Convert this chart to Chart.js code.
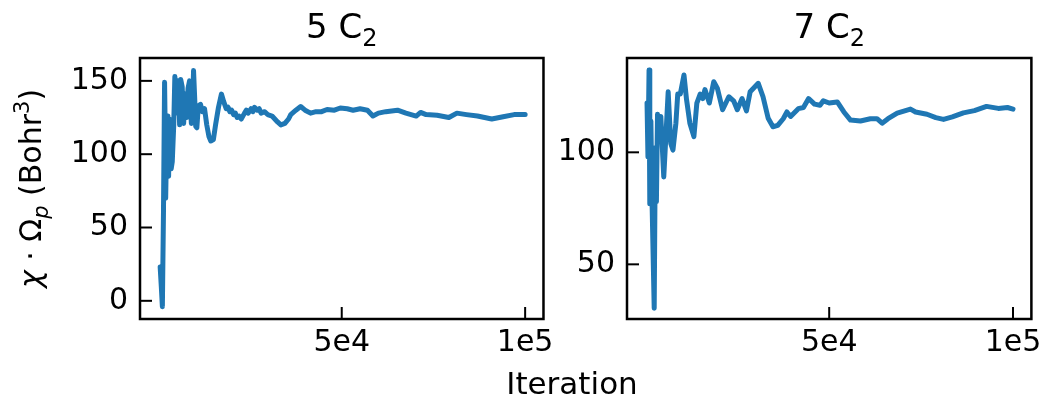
<!DOCTYPE html>
<html>
<head>
<meta charset="utf-8">
<script src="https://cdn.jsdelivr.net/npm/chart.js@4.4.1/dist/chart.umd.min.js"></script>
<style>
  body { margin: 0; background: #fff; }
  .wrap { position: relative; width: 1048px; height: 400px; overflow: hidden; }
  #chart5 { position: absolute; left: 0; top: 0; }
  #chart7 { position: absolute; left: 552px; top: 0; }
  #xlabel {
    position: absolute; left: 432px; width: 280px; top: 368px;
    text-align: center; font-family: 'DejaVu Sans'; font-size: 31px; line-height: 1; color: #000;
  }
</style>
</head>
<body>
<div class="wrap">
  <canvas id="chart5" width="560" height="400"></canvas>
  <canvas id="chart7" width="496" height="400"></canvas>
  <div id="xlabel">Iteration</div>
</div>
<script>
// Data
const iter5 = [500, 800, 1100, 1400, 1700, 1900, 2000, 2200, 2400, 2600, 2800, 3000, 3200, 3500, 3800, 4200,
  4500, 4900, 5200, 5500, 5800, 6100, 6500, 6900, 7300, 7700, 8100, 8500, 9000, 9300, 9600, 9900, 10200, 10500,
  10900, 11500, 12000, 12600, 13200, 13800, 14300, 15000, 15600, 16400, 17200, 17800, 18500, 19000, 19500, 20000,
  20500, 21000, 21500, 22000, 22600, 23500, 24000, 24500, 25300, 25800, 26200, 27000, 27500, 28000, 29000, 29800,
  31000, 32500, 33400, 34500, 35500, 36100, 37500, 38800, 40000, 41500, 43000, 44500, 46000, 48000, 49600, 51500,
  53100, 55000, 57000, 58500, 60000, 62000, 65200, 67500, 70300, 71500, 73000, 76000, 79200, 81400, 84000, 87000,
  90900, 94000, 97000, 100000];
const chi5 = [23, 10, -4, 60, 149, 110, 70, 100, 126, 95, 85, 124, 110, 90, 95, 120,
  153, 140, 128, 150, 120, 151, 146, 121, 141, 125, 145, 150, 121, 130, 157, 139, 119, 118,
  133, 134, 129, 131, 120, 112, 109, 110, 120, 132, 141, 136, 131, 132, 129, 130,
  127, 128, 125, 126, 124, 128, 130, 128, 131, 129, 132, 130, 131, 128, 129, 127,
  126, 122, 120, 121, 124, 127, 130, 132.5, 130, 128, 129, 129, 130.5, 130, 131.5, 131,
  130, 131, 130, 126, 128, 129, 130, 128, 126, 128.5, 127, 126.5, 125, 128, 127, 126,
  124, 125.5, 127, 127];

const iter7 = [450, 700, 1000, 1200, 1500, 1800, 2400, 2700, 3000, 3300, 3800, 4200, 5000, 5700, 6200, 6900,
  7500, 8300, 8800, 9500, 10500, 11200, 12100, 13200, 14000, 14900, 15600, 16200, 17400, 18600, 19600, 21000,
  22700, 24000, 25000, 26300, 27500, 28500, 30700, 32000, 33400, 34700, 36000, 37500, 38500, 39500, 41600, 43000,
  44400, 46000, 47500, 48400, 50000, 52200, 54000, 55800, 58500, 61200, 63000, 64400, 66000, 68500, 72100, 73500,
  76600, 79000, 81100, 83500, 86500, 89500, 92800, 96000, 98500, 100000];
const chi7 = [122, 98, 136.7, 77, 114, 79, 30.4, 102, 78, 117, 108, 116, 89, 111, 127, 104,
  101, 113, 126, 126, 134.5, 123.5, 113, 107, 122, 126, 124, 128, 122, 131.5, 128.5, 119,
  124.8, 123, 119, 124, 118.5, 127, 130.8, 124.8, 115.2, 111.4, 112, 115, 118, 116, 119.5, 120,
  124, 121.5, 121, 123, 122, 122.5, 118, 114.4, 114, 115, 115, 113, 115, 117.5, 119.3, 118,
  117, 115.5, 114.7, 115.8, 117.6, 118.6, 120.5, 119.6, 120, 119.3];

const xTickValues = [50000, 100000];
const xTickLabels = ['5e4', '1e5'];
const yTicks5 = [0, 50, 100, 150];
const yTicks7 = [50, 100];

const FONT = 'DejaVu Sans';

// draw a run of text pieces: [text, size, italic, baseline shift]
function drawPieces(ctx, pieces, x, y) {
  let cx = x;
  pieces.forEach(p => {
    ctx.font = (p[2] ? 'italic ' : '') + p[1] + 'px "' + FONT + '"';
    ctx.fillText(p[0], cx, y + p[3]);
    cx += ctx.measureText(p[0]).width;
  });
}
function piecesWidth(ctx, pieces) {
  let w = 0;
  pieces.forEach(p => {
    ctx.font = (p[2] ? 'italic ' : '') + p[1] + 'px "' + FONT + '"';
    w += ctx.measureText(p[0]).width;
  });
  return w;
}

// box round the plot with inward tick marks, title with subscript
const frameAndTicks = {
  id: 'frameAndTicks',
  afterDraw(chart, args, opts) {
    const { ctx, chartArea: a, scales } = chart;
    ctx.save();
    ctx.strokeStyle = '#000';
    ctx.fillStyle = '#000';
    ctx.lineWidth = 2;
    scales.x.ticks.forEach(t => {
      const px = scales.x.getPixelForValue(t.value);
      ctx.beginPath(); ctx.moveTo(px, a.bottom); ctx.lineTo(px, a.bottom - 12); ctx.stroke();
    });
    scales.y.ticks.forEach(t => {
      const py = scales.y.getPixelForValue(t.value);
      ctx.beginPath(); ctx.moveTo(a.left, py); ctx.lineTo(a.left + 12, py); ctx.stroke();
    });
    ctx.lineWidth = 2.5;
    ctx.strokeRect(a.left, a.top, a.right - a.left, a.bottom - a.top);

    ctx.textBaseline = 'alphabetic';
    ctx.textAlign = 'left';
    const t = [[opts.titleMain, 34, false, 0], [opts.titleSub, 24, false, 8]];
    const tw = piecesWidth(ctx, t);
    drawPieces(ctx, t, (a.left + a.right) / 2 - tw / 2, 38);

    if (opts.yTitle) {
      const yt = [['χ', 30, true, 0], [' · ', 30, false, 0], ['Ω', 30, false, 0], ['p', 21, true, 7],
        [' (Bohr', 30, false, 0], ['3', 21, false, -12], [')', 30, false, 0]];
      const yw = piecesWidth(ctx, yt);
      ctx.translate(41, (a.top + a.bottom) / 2);
      ctx.rotate(-Math.PI / 2);
      drawPieces(ctx, yt, -yw / 2, 0);
    }
    ctx.restore();
  }
};

function makeChart(id, titleMain, titleSub, xs, ys, yMin, yMax, yTicks, yWidth, yTitle, padRight) {
  const ctx = document.getElementById(id).getContext('2d');
  return new Chart(ctx, {
    type: 'line',
    data: {
      datasets: [{
        data: xs.map((x, i) => ({ x: x, y: ys[i] })),
        borderColor: '#1f77b4',
        borderWidth: 5,
        borderJoinStyle: 'round',
        borderCapStyle: 'round',
        pointRadius: 0,
        tension: 0,
        fill: false
      }]
    },
    options: {
      responsive: false,
      animation: false,
      layout: { padding: { left: 0, right: padRight, top: 58, bottom: 0 } },
      plugins: {
        legend: { display: false },
        tooltip: { enabled: false },
        title: { display: false },
        frameAndTicks: { titleMain: titleMain, titleSub: titleSub, yTitle: yTitle }
      },
      scales: {
        x: {
          type: 'linear',
          min: -5000,
          max: 105000,
          afterBuildTicks: s => { s.ticks = xTickValues.map(v => ({ value: v })); },
          afterFit: s => { s.height = 81; },
          grid: { display: false, drawTicks: false },
          border: { display: false },
          ticks: {
            color: '#000',
            font: { family: FONT, size: 30 },
            padding: 6,
            maxRotation: 0,
            autoSkip: false,
            callback: (v, i) => xTickLabels[i]
          }
        },
        y: {
          min: yMin,
          max: yMax,
          afterBuildTicks: s => { s.ticks = yTicks.map(v => ({ value: v })); },
          afterFit: s => { s.width = yWidth; },
          grid: { display: false, drawTicks: false },
          border: { display: false },
          ticks: {
            color: '#000',
            font: { family: FONT, size: 30 },
            padding: 12,
            autoSkip: false
          }
        }
      }
    },
    plugins: [frameAndTicks]
  });
}

makeChart('chart5', '5 C', '2', iter5, chi5, -12.4, 165.6, yTicks5, 140, true, 12);
makeChart('chart7', '7 C', '2', iter7, chi7, 25.6, 142.1, yTicks7, 75, false, 15);
</script>
</body>
</html>
